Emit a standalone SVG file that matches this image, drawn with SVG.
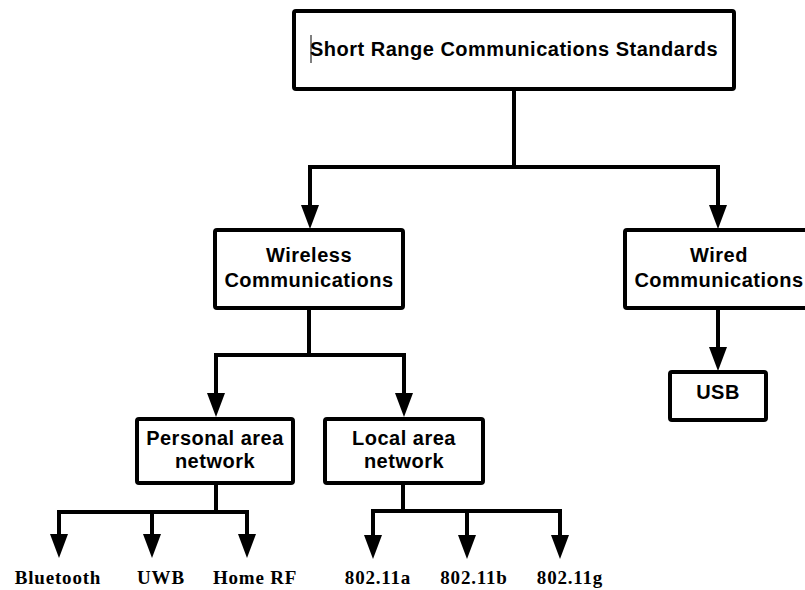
<svg xmlns="http://www.w3.org/2000/svg" width="805" height="590" viewBox="0 0 805 590">
  <defs>
    <marker id="arr" markerUnits="userSpaceOnUse" markerWidth="24" markerHeight="18" viewBox="0 0 24 18" refX="0" refY="9" orient="auto">
      <path d="M0,0 L24,9 L0,18 z" fill="#000"/>
    </marker>
    <style>
      .box { fill: #fff; stroke: #000; stroke-width: 4; }
      .hd { font-family: "Liberation Sans", Arial, sans-serif; font-weight: bold; font-size: 20px; letter-spacing: 0.5px; text-anchor: middle; fill: #000; }
      .lf { font-family: "Liberation Serif", "Times New Roman", serif; font-weight: bold; font-size: 19px; letter-spacing: 0.8px; text-anchor: middle; fill: #000; }
      .con { fill: none; stroke: #000; stroke-width: 4; stroke-linejoin: miter; }
    </style>
  </defs>
  <rect width="805" height="590" fill="#fff"/>

  <g id="connectors">
    <path class="con" d="M514,90 V167 H310 V205" marker-end="url(#arr)"/>
    <path class="con" d="M514,167 H718 V205" marker-end="url(#arr)"/>
    <path class="con" d="M718,310 V347" marker-end="url(#arr)"/>
    <path class="con" d="M309,310 V355 H216 V393" marker-end="url(#arr)"/>
    <path class="con" d="M309,355 H404 V393" marker-end="url(#arr)"/>
    <path class="con" d="M216,485 V512 H59 V534" marker-end="url(#arr)"/>
    <path class="con" d="M152,512 V534" marker-end="url(#arr)"/>
    <path class="con" d="M216,512 H247 V534" marker-end="url(#arr)"/>
    <path class="con" d="M403,485 V511 H373 V535" marker-end="url(#arr)"/>
    <path class="con" d="M403,511 H560 V535" marker-end="url(#arr)"/>
    <path class="con" d="M467,511 V535" marker-end="url(#arr)"/>
  </g>

  <g id="root">
    <rect class="box" x="294" y="11" width="440" height="78" rx="2"/>
    <line x1="311" y1="35" x2="311" y2="63" stroke="#000" stroke-width="1"/>
    <text class="hd" x="514" y="56">Short Range Communications Standards</text>
  </g>

  <g id="wireless">
    <rect class="box" x="215" y="230" width="188" height="78" rx="2"/>
    <text class="hd" x="309" y="262">Wireless</text>
    <text class="hd" x="309" y="287">Communications</text>
  </g>

  <g id="wired">
    <rect class="box" x="625" y="230" width="188" height="78" rx="2"/>
    <text class="hd" x="719" y="262">Wired</text>
    <text class="hd" x="719" y="287">Communications</text>
  </g>

  <g id="usb">
    <rect class="box" x="670" y="372" width="96" height="48" rx="2"/>
    <text class="hd" x="718" y="399">USB</text>
  </g>

  <g id="pan">
    <rect class="box" x="137" y="419" width="156" height="64" rx="2"/>
    <text class="hd" x="215" y="445">Personal area</text>
    <text class="hd" x="215" y="468">network</text>
  </g>

  <g id="lan">
    <rect class="box" x="325" y="419" width="158" height="64" rx="2"/>
    <text class="hd" x="404" y="445">Local area</text>
    <text class="hd" x="404" y="468">network</text>
  </g>

  <g id="leaves">
    <text class="lf" x="58" y="584">Bluetooth</text>
    <text class="lf" x="161" y="584">UWB</text>
    <text class="lf" x="255" y="584">Home RF</text>
    <text class="lf" x="378" y="584">802.11a</text>
    <text class="lf" x="474" y="584">802.11b</text>
    <text class="lf" x="570" y="584">802.11g</text>
  </g>
</svg>
